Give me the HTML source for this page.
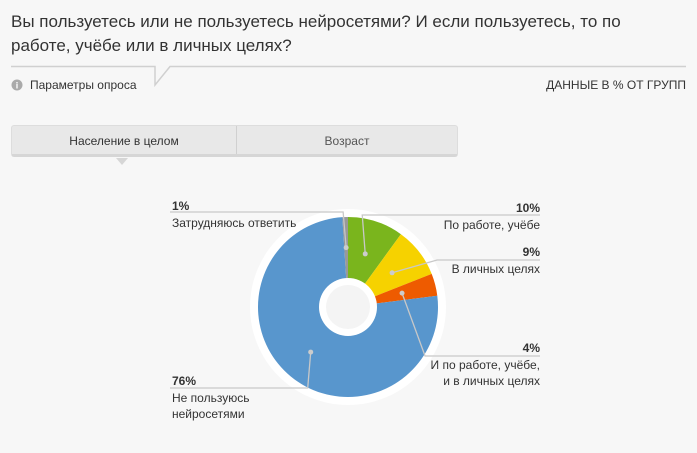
<!DOCTYPE html>
<html><head><meta charset="utf-8"><style>
body{margin:0;width:697px;height:453px;background:#f7f7f7;font-family:"Liberation Sans","DejaVu Sans",sans-serif;color:#333;overflow:hidden;position:relative}
.abs{position:absolute}
</style></head><body>
<div class="abs" style="left:11px;top:10px;font-size:17px;line-height:24px;color:#333;width:640px">Вы пользуетесь или не пользуетесь нейросетями? И если пользуетесь, то по работе, учёбе или в личных целях?</div>
<svg class="abs" style="left:0;top:0" width="697" height="453">
<polyline points="11,66.5 155,66.5 155,85 170,66.5 686,66.5" fill="none" stroke="#d0d0d0" stroke-width="1.5"/>
<circle cx="17" cy="85" r="5.5" fill="#aaa"/>
<text x="17" y="88.5" font-size="9" fill="#fff" text-anchor="middle" font-weight="bold">i</text>
<g id="pie"></g>
</svg>
<div class="abs" style="left:30px;top:78px;font-size:12px">Параметры опроса</div>
<div class="abs" style="right:11px;top:78px;font-size:12px">ДАННЫЕ В % ОТ ГРУПП</div>
<div class="abs" style="left:11px;top:125px;width:447px;height:32px;background:#e8e8e8;border:1px solid #ddd;border-bottom:3px solid #d6d6d6;border-radius:3px;box-sizing:border-box;display:flex;font-size:12px">
<div style="width:224px;border-right:1px solid #d0d0d0;text-align:center;line-height:30px;color:#333">Население в целом</div>
<div style="flex:1;text-align:center;line-height:30px;color:#555">Возраст</div>
</div>
<div class="abs" style="left:116px;top:158px;width:0;height:0;border-left:6px solid transparent;border-right:6px solid transparent;border-top:7px solid #d6d6d6"></div>
<div id="labels"></div>
<script>
const categories=["По работе, учёбе","В личных целях","И по работе, учёбе, и в личных целях","Не пользуюсь нейросетями","Затрудняюсь ответить"];
const values=[10,9,4,76,1];
const colors=["#7ab51d","#f6d200","#ee5b00","#5896cd","#999999"];
const cx=348,cy=307,R=90,r0=29;
const g=document.getElementById('pie');
const NS="http://www.w3.org/2000/svg";
function mk(t,a){const e=document.createElementNS(NS,t);for(const k in a)e.setAttribute(k,a[k]);return e;}
const ring=mk('circle',{cx:cx,cy:cy,r:R+8,fill:'#fff'});


g.appendChild(ring);
const total=values.reduce((a,b)=>a+b,0);
function pt(a,rr){return [cx+rr*Math.sin(a),cy-rr*Math.cos(a)];}
let acc=0;const mids=[];
values.forEach((v,i)=>{
 const a0=acc/total*2*Math.PI;acc+=v;const a1=acc/total*2*Math.PI;
 const p0=pt(a0,R),p1=pt(a1,R);const large=(a1-a0)>Math.PI?1:0;
 const p=mk('path',{d:`M${cx},${cy}L${p0[0]},${p0[1]}A${R},${R} 0 ${large} 1 ${p1[0]},${p1[1]}Z`,fill:colors[i]});
 
 
 g.appendChild(p);mids.push((a0+a1)/2);
});
g.appendChild(mk('circle',{cx:cx,cy:cy,r:r0,fill:'#fff'}));
g.appendChild(mk('circle',{cx:cx,cy:cy,r:22,fill:'#f4f4f4'}));
const lead=[[215,'r'],[260,'r'],[356,'r'],[388,'l'],[212,'l']];
values.forEach((v,i)=>{
 const m=pt(mids[i],i==4?R*0.66:(i==3?R*0.65:R*0.62));
 const hy=lead[i][0],side=lead[i][1];
 const kx=i==2?m[0]+23:(i==1?m[0]+45:m[0]-3);
 const ex=side=='r'?540:170;
 const l=mk('polyline',{points:`${m[0]},${m[1]} ${kx},${hy} ${ex},${hy}`,fill:'none',stroke:'#c8c8c8','stroke-width':1.3});
 
 
 g.appendChild(l);
 g.appendChild(mk('circle',{cx:m[0],cy:m[1],r:2.5,fill:'#ccc'}));
});
const labelPos=[[207,'r',["По работе, учёбе"]],[251,'r',["В личных целях"]],[347,'r',["И по работе, учёбе,","и в личных целях"]],[380,'l',["Не пользуюсь","нейросетями"]],[205,'l',["Затрудняюсь ответить"]]];
const L=document.getElementById('labels');
values.forEach((v,i)=>{
 const [y,side,lines]=labelPos[i];
 const d=document.createElement('div');
 
 
 d.style.cssText=`position:absolute;top:${y-7}px;font-size:12px;line-height:16.5px;color:#333;white-space:nowrap;`+(side=='r'?'right:157px;text-align:right;':'left:172px;');
 d.innerHTML=`<b>${v}%</b><br>`+lines.join('<br>');
 L.appendChild(d);
});
</script>
</body></html>
